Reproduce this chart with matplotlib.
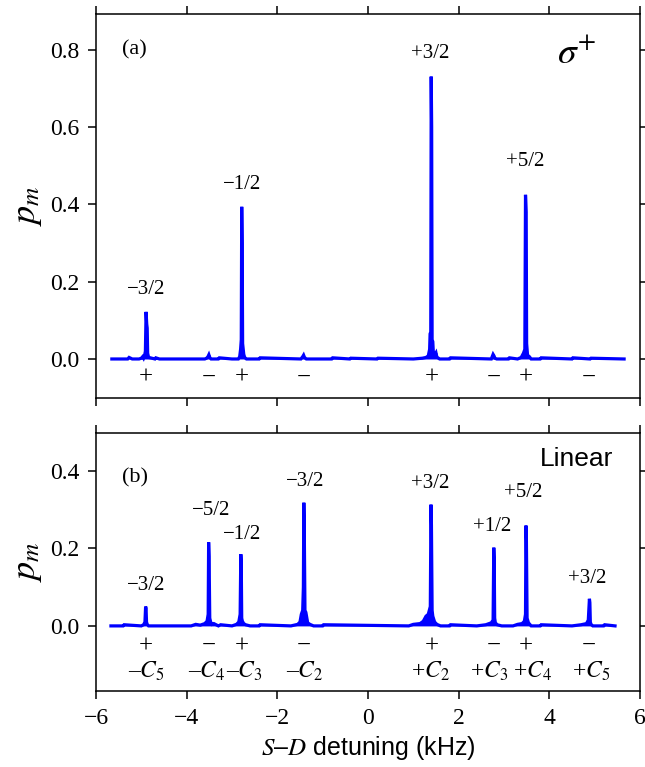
import matplotlib
matplotlib.use("Agg")
import matplotlib.pyplot as plt

plt.rcParams['mathtext.fontset'] = 'stix'
plt.rcParams['font.family'] = ['Liberation Serif', 'DejaVu Serif']
plt.rcParams['axes.unicode_minus'] = True

BLUE = '#0000ff'

# ---- panel (a): sigma+ spectrum (detuning kHz, p_m) ----
xa = [-5.65, -5.30, -5.27, -5.20, -5.05, -5.00, -4.97, -4.95, -4.93, -4.91, -4.895, -4.88, -4.87, -4.86,
      -4.84, -4.80, -4.70, -4.68, -4.60, -3.60, -3.56, -3.53, -3.51, -3.49, -3.46, -3.30, -3.28,
      -3.00, -2.86, -2.83, -2.81, -2.795, -2.785, -2.775, -2.765, -2.74, -2.72, -2.68,
      -2.40, -2.38, -1.48, -1.44, -1.42, -1.40, -1.36, -0.80, -0.78, -0.40, -0.38, 0.20, 0.22,
      1.00, 1.20, 1.28, 1.33, 1.36, 1.37, 1.385, 1.395, 1.405, 1.415, 1.43, 1.445, 1.48, 1.50,
      1.52, 1.58, 1.80, 1.82, 2.72, 2.76, 2.78, 2.80, 2.84, 3.10, 3.12, 3.30, 3.38, 3.43, 3.46,
      3.475, 3.49, 3.50, 3.52, 3.56, 3.60, 3.80, 3.82, 4.50, 4.52, 4.90, 4.92, 5.65]
ya = [0.0, 0.0, 0.004, 0.0, 0.0, 0.002, 0.006, 0.002, 0.008, 0.02, 0.122, 0.09, 0.08, 0.015,
      0.004, 0.003, 0.0, 0.003, 0.0, 0.0, 0.002, 0.006, 0.011, 0.004, 0.0, 0.0, 0.003,
      0.0, 0.0, 0.006, 0.025, 0.05, 0.394, 0.30, 0.04, 0.012, 0.004, 0.0,
      0.0, 0.003, 0.0, 0.006, 0.01, 0.004, 0.0, 0.0, 0.003, 0.0, 0.002, 0.0, 0.002,
      0.0, 0.002, 0.004, 0.008, 0.025, 0.065, 0.07, 0.731, 0.60, 0.05, 0.045, 0.01, 0.012, 0.016,
      0.005, 0.0, 0.0, 0.003, 0.0, 0.012, 0.008, 0.002, 0.0, 0.0, 0.003, 0.0, 0.004, 0.015, 0.025,
      0.425, 0.38, 0.04, 0.01, 0.006, 0.0, 0.0, 0.003, 0.0, 0.003, 0.0, 0.002, 0.0]

# ---- panel (b): linear polarisation spectrum ----
xb = [-5.67, -5.40, -5.38, -5.00, -4.95, -4.92, -4.905, -4.895, -4.885, -4.87, -4.84, -4.80,
      -3.90, -3.80, -3.70, -3.60, -3.55, -3.525, -3.515, -3.505, -3.49, -3.47, -3.44, -3.40, -3.30, -3.25,
      -3.00, -2.90, -2.85, -2.82, -2.805, -2.795, -2.785, -2.77, -2.74, -2.70, -2.60, -2.40, -2.38,
      -1.70, -1.55, -1.50, -1.47, -1.44, -1.425, -1.415, -1.405, -1.39, -1.37, -1.33, -1.28, -1.20, -1.00, -0.98,
      0.90, 1.00, 1.15, 1.22, 1.28, 1.33, 1.375, 1.39, 1.40, 1.415, 1.43, 1.47, 1.52, 1.60, 1.80, 1.82,
      2.40, 2.60, 2.72, 2.76, 2.775, 2.785, 2.795, 2.81, 2.85, 2.95, 3.20, 3.30, 3.40, 3.45, 3.475,
      3.485, 3.495, 3.51, 3.54, 3.60, 3.80, 3.82, 4.50, 4.70, 4.82, 4.86, 4.885, 4.895, 4.905,
      4.92, 4.96, 5.05, 5.20, 5.22, 5.45]
yb = [0.0, 0.0, 0.003, 0.0, 0.003, 0.01, 0.05, 0.045, 0.01, 0.004, 0.0, 0.0,
      0.0, 0.004, 0.002, 0.006, 0.012, 0.03, 0.216, 0.18, 0.02, 0.01, 0.004, 0.006, 0.0, 0.003,
      0.0, 0.004, 0.01, 0.03, 0.185, 0.16, 0.02, 0.012, 0.006, 0.003, 0.0, 0.0, 0.003,
      0.0, 0.004, 0.01, 0.03, 0.04, 0.10, 0.318, 0.25, 0.04, 0.035, 0.008, 0.004, 0.0, 0.0, 0.003,
      0.0, 0.004, 0.006, 0.012, 0.025, 0.03, 0.05, 0.313, 0.26, 0.04, 0.025, 0.01, 0.004, 0.0, 0.0, 0.003,
      0.0, 0.003, 0.008, 0.015, 0.202, 0.17, 0.02, 0.008, 0.003, 0.0, 0.0, 0.004, 0.006, 0.012, 0.03,
      0.259, 0.22, 0.02, 0.008, 0.0, 0.0, 0.003, 0.0, 0.003, 0.006, 0.015, 0.07, 0.06, 0.01,
      0.004, 0.0, 0.0, 0.0, 0.003, 0.0]

# ---- annotations ----
labels_a = ['\u22123/2', '\u22121/2', '+3/2', '+5/2']
labels_a_x = [-4.89, -2.77, 1.38, 3.47]
labels_a_y = [0.179, 0.451, 0.792, 0.51]
signs_a = ['+', '\u2212', '+', '\u2212', '+', '\u2212', '+', '\u2212']
signs_x = [-4.89, -3.51, -2.78, -1.42, 1.40, 2.77, 3.48, 4.87]

labels_b = ['\u22123/2', '\u22125/2', '\u22121/2', '\u22123/2', '+3/2', '+1/2', '+5/2', '+3/2']
labels_b_x = [-4.89, -3.46, -2.78, -1.38, 1.38, 2.74, 3.43, 4.83]
labels_b_y = [0.104, 0.299, 0.237, 0.372, 0.368, 0.256, 0.344, 0.123]
c_labels = ['\u2013$C_5$', '\u2013$C_4$', '\u2013$C_3$', '\u2013$C_2$',
            '+$C_2$', '+$C_3$', '+$C_4$', '+$C_5$']
c_x = [-4.89, -3.55, -2.72, -1.40, 1.38, 2.68, 3.62, 4.92]

xticks = [-6, -4, -2, 0, 2, 4, 6]

fig = plt.figure(figsize=(6.45, 7.67), dpi=100)
axA = fig.add_axes([0.1488, 0.4811, 0.8434, 0.5006])
axB = fig.add_axes([0.1488, 0.0991, 0.8434, 0.3364])

for ax in (axA, axB):
    ax.set_xlim(-6, 6)
    ax.set_xticks(xticks)
    ax.tick_params(direction='out', length=6, width=1.1, labelsize=17,
                   top=True, right=True, pad=6)
    for s in ax.spines.values():
        s.set_linewidth(1.1)
    ax.set_ylabel('$p_m$', fontsize=26, labelpad=4)

axA.plot(xa, ya, color=BLUE, lw=2.3, solid_joinstyle='miter')
axA.fill_between(xa, ya, color=BLUE, lw=0)
axA.set_ylim(-0.101, 0.893)
axA.set_yticks([0.0, 0.2, 0.4, 0.6, 0.8])
axA.set_yticklabels(['0.0', '0.2', '0.4', '0.6', '0.8'])
axA.tick_params(labelbottom=False)
for t, x, y in zip(labels_a, labels_a_x, labels_a_y):
    axA.text(x, y, t, ha='center', va='center', fontsize=15)
for t, x in zip(signs_a, signs_x):
    axA.text(x, -0.049, t, ha='center', va='center', fontsize=18)
axA.text(-5.15, 0.8, '(a)', ha='center', va='center', fontsize=16)
axA.text(4.6, 0.79, r'$\sigma^{+}$', ha='center', va='center', fontsize=27)

axB.plot(xb, yb, color=BLUE, lw=2.3, solid_joinstyle='miter')
axB.fill_between(xb, yb, color=BLUE, lw=0)
axB.set_ylim(-0.168, 0.498)
axB.set_yticks([0.0, 0.2, 0.4])
axB.set_yticklabels(['0.0', '0.2', '0.4'])
for t, x, y in zip(labels_b, labels_b_x, labels_b_y):
    axB.text(x, y, t, ha='center', va='center', fontsize=15)
for t, x in zip(signs_a, signs_x):
    axB.text(x, -0.052, t, ha='center', va='center', fontsize=18)
for t, x in zip(c_labels, c_x):
    axB.text(x, -0.118, t, ha='center', va='center', fontsize=17)
axB.text(-5.15, 0.383, '(b)', ha='center', va='center', fontsize=16)
axB.text(5.4, 0.43, 'Linear', ha='right', va='center', fontsize=19,
         family='Liberation Sans')
axB.set_xticklabels(['\u22126', '\u22124', '\u22122', '0', '2', '4', '6'])
axB.set_xlabel('$S$\u2013$D$ detuning (kHz)', fontsize=18, family='Liberation Sans',
               labelpad=4)

fig.savefig('out.png', dpi=100)
